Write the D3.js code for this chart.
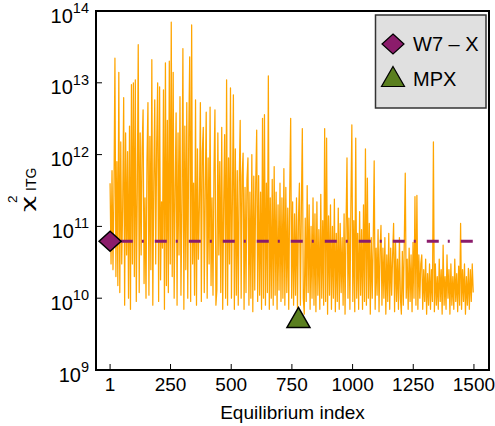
<!DOCTYPE html>
<html>
<head>
<meta charset="utf-8">
<script src="https://cdn.jsdelivr.net/npm/d3@7.9.0/dist/d3.min.js"></script>
<style>
  body { margin: 0; background: #fff; }
  svg { display: block; font-family: "Liberation Sans", Arial, sans-serif; }
</style>
</head>
<body>
<div id="chart"></div>
<script>
// chi^2_ITG per equilibrium, sampled every 4th index (1, 5, 9, ...)
const indexStep = 4;
const chiITG = [
  4e11, 3e10, 6e11, 2.5e10, 3e11, 2.2e13, 2e10, 8e11, 1.5e10, 1.4e13,
  1.2e10, 1.5e12, 3e10, 2e11, 6.2e12, 8e9, 2e12, 4e10, 1.1e12, 1e10,
  2.5e12, 7e9, 9.4e12, 3e10, 1e13, 2e10, 1.1e13, 9e9, 3e11, 3.4e13,
  1.2e10, 2e12, 4e10, 1.2e12, 4.2e12, 1.6e10, 2.5e11, 1e10, 8e11, 5.3e12,
  1.1e10, 1.8e12, 2.5e10, 2.1e13, 8e9, 4e11, 5.8e12, 3e10, 1.4e12, 1e13,
  9e9, 8.8e12, 1.8e10, 2.2e11, 5e10, 8e12, 7e9, 1.9e13, 1.5e10, 3e12,
  1.2e10, 2e13, 3e10, 7e13, 2e10, 1.4e13, 1e10, 3e11, 3.8e12, 8e9,
  2e12, 4e10, 6.4e12, 1.1e10, 2e11, 3e13, 7e9, 2.5e12, 2.5e10, 5.3e12,
  1e10, 1.8e12, 2.3e13, 9e9, 6.4e13, 3e10, 4e11, 1.1e10, 5.8e12, 8e9,
  1.2e12, 3.5e10, 2e11, 5.3e12, 9e9, 1.1e12, 2.4e12, 1.2e10, 3e11, 3.9e12,
  1e10, 9e11, 3e10, 4.6e12, 1.5e10, 2.5e11, 1.1e10, 6e11, 4.2e12, 8e9,
  1.3e10, 2e12, 4e10, 8e11, 1.2e10, 2.4e12, 7e9, 2e11, 1.9e12, 1e10,
  1.1e13, 8e9, 9e11, 3e10, 8.5e12, 1e10, 2.5e11, 6.8e12, 7e9, 1.2e12,
  1.1e10, 6e11, 8e9, 4e11, 3e12, 1e10, 5e11, 1.05e12, 7e9, 3.5e11,
  1.2e10, 4.5e11, 9e11, 8e9, 3e11, 1e10, 1e12, 6.5e9, 5e11, 1.3e10,
  4e11, 2.2e12, 9e9, 5.1e11, 1.1e10, 3e11, 7e9, 3.2e12, 1e10, 3.6e12,
  8e9, 4e11, 1.2e10, 1.25e13, 7e9, 2.5e11, 1e10, 4.5e11, 8e9, 6.8e11,
  1.1e10, 3e11, 7e9, 2e11, 1.3e10, 4e11, 9e9, 2.5e11, 1e10, 6.4e11,
  8e9, 3.5e11, 1.2e10, 1.8e11, 7e9, 3e11, 3.2e12, 1e10, 2.2e11, 8e9,
  1.5e11, 1.1e10, 2.5e11, 7e9, 1.2e11, 4e11, 8e9, 1.8e11, 2.3e12, 1e10,
  6e9, 1.3e11, 9e9, 3.7e11, 1.2e10, 2e11, 7e9, 1e11, 1e10, 2.5e11,
  8e9, 1.5e11, 6.5e9, 2.2e11, 1.1e10, 9e10, 7e9, 2.8e11, 1e10, 1.2e11,
  8e9, 2.3e12, 9e9, 1.7e12, 6e9, 1.4e11, 1.1e10, 2e11, 7e9, 1e11,
  1e10, 2.4e11, 6.5e9, 8e10, 9e9, 1.8e11, 7e9, 1.1e11, 1.2e10, 7e10,
  8e9, 1.5e11, 6e9, 1e11, 9e11, 1e10, 1.3e11, 7e9, 2e11, 2.6e12,
  9e9, 1.2e11, 6.5e9, 1.7e12, 1e10, 8e10, 7e9, 1.6e11, 1.1e10, 9e10,
  7e9, 2e11, 9e9, 1.2e12, 8e9, 4.7e11, 1e10, 1.1e11, 6e9, 7e10,
  1e10, 6e10, 8.2e11, 7e9, 5e10, 1.1e10, 9e10, 6.5e9, 4.5e10, 1.03e11,
  8e9, 5e10, 1e10, 7e10, 6e9, 4e10, 9e9, 8e10, 7e9, 5e10,
  1.1e10, 4e10, 1.1e11, 6.5e9, 6e10, 9e9, 3.5e10, 7e9, 7e10, 1e10,
  6e9, 4.5e10, 8e9, 6e10, 5.5e11, 1e10, 3.5e10, 7e9, 5e10, 9e9,
  4e10, 6.5e9, 6e10, 1e10, 2.6e11, 8e9, 2.7e11, 7e9, 4e10, 1e10,
  3e10, 4e10, 7e9, 2.5e10, 9e9, 3.5e10, 6e9, 2.2e10, 8e9, 3e10,
  7e9, 2.5e10, 9e9, 1.5e12, 6.5e9, 3e10, 8e9, 2e10, 7e9, 3.5e10,
  9e9, 2.5e10, 6e9, 5.5e10, 8e9, 2e10, 7e9, 4e10, 1e10, 2.5e10,
  6e9, 3e10, 8e9, 2e10, 7e9, 3.5e10, 9e9, 2.2e10, 6.5e9, 2.8e10,
  8e9, 1.1e11, 7e9, 2.5e10, 9e9, 3e10, 6e9, 2e10, 8e9, 2.6e10,
  7e9, 2.5e10, 9e9, 3e10, 1.2e10
];

const refNames = ['W7 – X', 'MPX'];
const refIndex = [1, 777];
const refValue = [6.2e10, 5.4e9];
const refColors = ['#8b1c6b', '#5a7f1f'];

const xTicks = [1, 250, 500, 750, 1000, 1250, 1500];
const yTicks = [1e9, 1e10, 1e11, 1e12, 1e13, 1e14];

const width = 495;
const height = 426;
const area = { left: 96, right: 489, top: 11, bottom: 370 };

const svg = d3.select('#chart')
  .append('svg')
  .attr('width', width)
  .attr('height', height);

const xScale = d3.scaleLinear()
  .domain([-57, 1562])
  .range([area.left, area.right]);

const yScale = d3.scaleLog()
  .domain([1e9, 1e14])
  .range([area.bottom, area.top]);

// noisy scan
const line = d3.line()
  .x((d, i) => xScale(1 + i * indexStep))
  .y((d) => yScale(d));

svg.append('path')
  .datum(chiITG)
  .attr('d', line)
  .attr('fill', 'none')
  .attr('stroke', '#ffa500')
  .attr('stroke-width', 1.25)
  .attr('stroke-linejoin', 'round');

// W7-X reference level
svg.append('line')
  .attr('x1', xScale(refIndex[0]))
  .attr('x2', xScale(1500))
  .attr('y1', yScale(refValue[0]))
  .attr('y2', yScale(refValue[0]))
  .attr('stroke', refColors[0])
  .attr('stroke-width', 3)
  .attr('stroke-dasharray', '12,9,2,11')
  .attr('stroke-dashoffset', -10.7);

const diamond = 'M0,-10L11,0L0,10L-11,0Z';
const triangle = 'M0,-10L11.5,10L-11.5,10Z';
const shapes = [diamond, triangle];

svg.selectAll('path.ref')
  .data(refNames)
  .join('path')
  .attr('class', 'ref')
  .attr('d', (d, i) => shapes[i])
  .attr('transform', (d, i) => `translate(${xScale(refIndex[i])},${yScale(refValue[i])})`)
  .attr('fill', (d, i) => refColors[i])
  .attr('stroke', '#000')
  .attr('stroke-width', 1.5)
  .attr('stroke-linejoin', 'miter');

// ticks, pointing inward
svg.append('g')
  .selectAll('line')
  .data(xTicks)
  .join('line')
  .attr('x1', (d) => xScale(d))
  .attr('x2', (d) => xScale(d))
  .attr('y1', area.bottom)
  .attr('y2', area.bottom - 6)
  .attr('stroke', '#000')
  .attr('stroke-width', 1);

svg.append('g')
  .selectAll('line')
  .data(yTicks)
  .join('line')
  .attr('x1', area.left)
  .attr('x2', area.left + 6)
  .attr('y1', (d) => yScale(d))
  .attr('y2', (d) => yScale(d))
  .attr('stroke', '#000')
  .attr('stroke-width', 1);

svg.append('g')
  .selectAll('text')
  .data(xTicks)
  .join('text')
  .attr('x', (d) => xScale(d))
  .attr('y', area.bottom + 21)
  .attr('text-anchor', 'middle')
  .attr('font-size', 19)
  .text((d) => d);

const yLabels = svg.append('g')
  .selectAll('text')
  .data(yTicks)
  .join('text')
  .attr('x', 89)
  .attr('y', (d) => yScale(d) + 11.5)
  .attr('text-anchor', 'end')
  .attr('font-size', 20);

yLabels.append('tspan').text('10');
yLabels.append('tspan')
  .attr('font-size', 14.5)
  .attr('dy', -9.5)
  .text((d) => Math.round(Math.log10(d)));

// frame
svg.append('rect')
  .attr('x', area.left)
  .attr('y', area.top)
  .attr('width', area.right - area.left)
  .attr('height', area.bottom - area.top)
  .attr('fill', 'none')
  .attr('stroke', '#000')
  .attr('stroke-width', 2);

// axis titles
svg.append('text')
  .attr('x', (area.left + area.right) / 2)
  .attr('y', 419)
  .attr('text-anchor', 'middle')
  .attr('font-size', 19)
  .text('Equilibrium index');

const yTitle = svg.append('g')
  .attr('transform', 'translate(33,212) rotate(-90)');

yTitle.append('text')
  .attr('x', 0)
  .attr('y', 0)
  .attr('font-family', '"DejaVu Sans", sans-serif')
  .attr('font-size', 16)
  .attr('textLength', 16)
  .attr('lengthAdjust', 'spacingAndGlyphs')
  .text('χ');

yTitle.append('text')
  .attr('x', 9)
  .attr('y', -16)
  .attr('font-size', 13.5)
  .text('2');

yTitle.append('text')
  .attr('x', 21)
  .attr('y', 3)
  .attr('font-size', 14)
  .text('ITG');

// legend
const legend = svg.append('g');

legend.append('rect')
  .attr('x', 375.5)
  .attr('y', 15)
  .attr('width', 110.5)
  .attr('height', 93)
  .attr('fill', '#e0e0e0')
  .attr('stroke', '#333')
  .attr('stroke-width', 1.5);

const legendRows = [44, 76.5];
const legendBase = [51, 86];

legend.selectAll('path')
  .data(refNames)
  .join('path')
  .attr('d', (d, i) => shapes[i])
  .attr('transform', (d, i) => `translate(393,${legendRows[i]})`)
  .attr('fill', (d, i) => refColors[i])
  .attr('stroke', '#000')
  .attr('stroke-width', 1.2);

legend.selectAll('text')
  .data(refNames)
  .join('text')
  .attr('x', 413)
  .attr('y', (d, i) => legendBase[i])
  .attr('font-size', 20)
  .text((d) => d);
</script>
</body>
</html>
